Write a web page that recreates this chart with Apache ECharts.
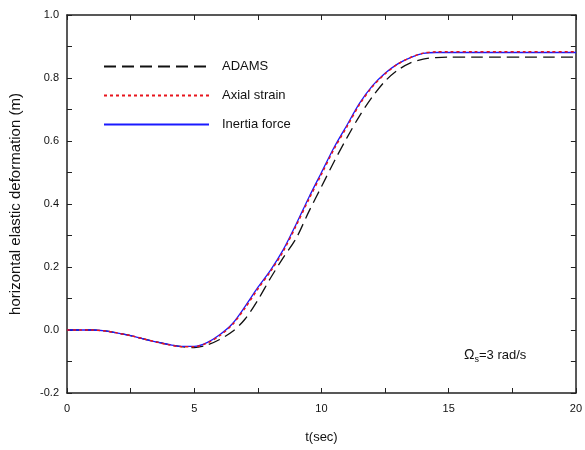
<!DOCTYPE html>
<html>
<head>
<meta charset="utf-8">
<script src="https://cdn.jsdelivr.net/npm/echarts@6/dist/echarts.min.js"></script>
<style>
  html, body { margin: 0; padding: 0; background: #fff; }
  #chart { width: 585px; height: 450px; }
</style>
</head>
<body>
<div id="chart"></div>
<script>
// time (sec)
const tData = [0, 0.5, 1, 1.5, 2, 2.5, 3, 3.5, 4, 4.5, 5, 5.5, 6, 6.5, 7, 7.5, 8, 8.5, 9, 9.5,
  10, 10.5, 11, 11.5, 12, 12.5, 13, 13.5, 14, 14.5, 15, 16, 17, 18, 19, 20];
// ADAMS
const adams = [0, 0, 0, -0.003, -0.01, -0.018, -0.028, -0.038, -0.046, -0.053, -0.056, -0.048, -0.03, -0.005,
  0.035, 0.095, 0.165, 0.23, 0.29, 0.375, 0.455, 0.535, 0.61, 0.68, 0.74, 0.79, 0.825, 0.848, 0.86, 0.865,
  0.866, 0.866, 0.866, 0.866, 0.866, 0.866];
// Axial strain
const axialStrain = [0, 0, 0, -0.003, -0.01, -0.018, -0.028, -0.038, -0.047, -0.053, -0.053, -0.042, -0.018,
  0.017, 0.07, 0.13, 0.186, 0.25, 0.33, 0.414, 0.494, 0.575, 0.645, 0.716, 0.772, 0.813, 0.844, 0.865, 0.879,
  0.883, 0.883, 0.883, 0.883, 0.883, 0.883, 0.883];
// Inertia force
const inertiaForce = [0, 0, 0, -0.003, -0.01, -0.018, -0.028, -0.038, -0.046, -0.052, -0.052, -0.04, -0.015,
  0.02, 0.075, 0.135, 0.19, 0.255, 0.335, 0.42, 0.5, 0.58, 0.65, 0.72, 0.775, 0.815, 0.845, 0.865, 0.878,
  0.881, 0.881, 0.881, 0.881, 0.881, 0.881, 0.881];

const zip = (ys) => tData.map((t, i) => [t, ys[i]]);

const chart = echarts.init(document.getElementById("chart"));

const axisColor = "#222";
const fontFam = "'Liberation Sans', Arial, sans-serif";

const option = {
  backgroundColor: "#fff",
  animation: false,
  grid: { left: 67, top: 15, right: 6, bottom: 57 },
  legend: {
    orient: "vertical",
    left: 98,
    top: 55,
    itemWidth: 105,
    itemHeight: 14,
    itemGap: 16,
    itemStyle: { color: "transparent", borderWidth: 0, opacity: 0 },
    textStyle: { fontFamily: fontFam, fontSize: 13, color: "#111", padding: [0, 0, 0, 8] },
    data: ["ADAMS", "Axial strain", "Inertia force"],
  },
  xAxis: [
    {
      type: "value",
      min: 0,
      max: 20,
      interval: 2.5,
      name: "t(sec)",
      nameLocation: "middle",
      nameGap: 38,
      nameTextStyle: { fontFamily: fontFam, fontSize: 13, color: "#111" },
      axisLine: { onZero: false, lineStyle: { color: axisColor, width: 1.5 } },
      axisTick: { inside: true, length: 5, lineStyle: { color: axisColor } },
      axisLabel: {
        fontFamily: fontFam,
        fontSize: 11,
        color: "#111",
        margin: 10,
        formatter: (v) => (Math.round(v * 10) % 50 === 0 ? String(Math.round(v)) : ""),
      },
      splitLine: { show: false },
    },
    {
      type: "value",
      position: "top",
      min: 0,
      max: 20,
      interval: 2.5,
      axisLine: { onZero: false, lineStyle: { color: axisColor, width: 1.5 } },
      axisTick: { inside: true, length: 5, lineStyle: { color: axisColor } },
      axisLabel: { show: false },
      splitLine: { show: false },
    },
  ],
  yAxis: [
    {
      type: "value",
      min: -0.2,
      max: 1.0,
      interval: 0.1,
      name: "horizontal elastic deformation (m)",
      nameLocation: "middle",
      nameGap: 44,
      nameTextStyle: { fontFamily: fontFam, fontSize: 15, color: "#111" },
      axisLine: { onZero: false, lineStyle: { color: axisColor, width: 1.5 } },
      axisTick: { inside: true, length: 5, lineStyle: { color: axisColor } },
      axisLabel: {
        fontFamily: fontFam,
        fontSize: 11,
        color: "#111",
        margin: 8,
        formatter: (v) => (Math.round(v * 10) % 2 === 0 ? (Math.round(v * 10) / 10).toFixed(1) : ""),
      },
      splitLine: { show: false },
    },
    {
      type: "value",
      position: "right",
      min: -0.2,
      max: 1.0,
      interval: 0.1,
      axisLine: { show: true, onZero: false, lineStyle: { color: axisColor, width: 1.5 } },
      axisTick: { show: true, inside: true, length: 5, lineStyle: { color: axisColor } },
      axisLabel: { show: false },
      splitLine: { show: false },
    },
  ],
  graphic: [
    {
      type: "text",
      left: 464,
      top: 348,
      style: {
        text: "{o|Ω}{s|s}{t|=3 rad/s}",
        rich: {
          o: { fontFamily: fontFam, fontSize: 14, fill: "#111" },
          s: { fontFamily: fontFam, fontSize: 9, fill: "#111", padding: [10, 0, 0, 0] },
          t: { fontFamily: fontFam, fontSize: 13, fill: "#111" },
        },
      },
    },
  ],
  series: [
    {
      name: "ADAMS",
      type: "line",
      data: zip(adams),
      smooth: 0.3,
      symbol: "none",
      lineStyle: { color: "#111", width: 1.3, type: [12, 6] },
      itemStyle: { color: "#111" },
      z: 2,
    },
    {
      name: "Axial strain",
      type: "line",
      data: zip(axialStrain),
      smooth: 0.3,
      symbol: "none",
      lineStyle: { color: "#e8141c", width: 1.5, type: [3, 3] },
      itemStyle: { color: "#e8141c" },
      z: 3,
    },
    {
      name: "Inertia force",
      type: "line",
      data: zip(inertiaForce),
      smooth: 0.3,
      symbol: "none",
      lineStyle: { color: "#1a1aff", width: 1.3 },
      itemStyle: { color: "#1a1aff" },
      z: 2,
    },
  ],
};

chart.setOption(option);
</script>
</body>
</html>
